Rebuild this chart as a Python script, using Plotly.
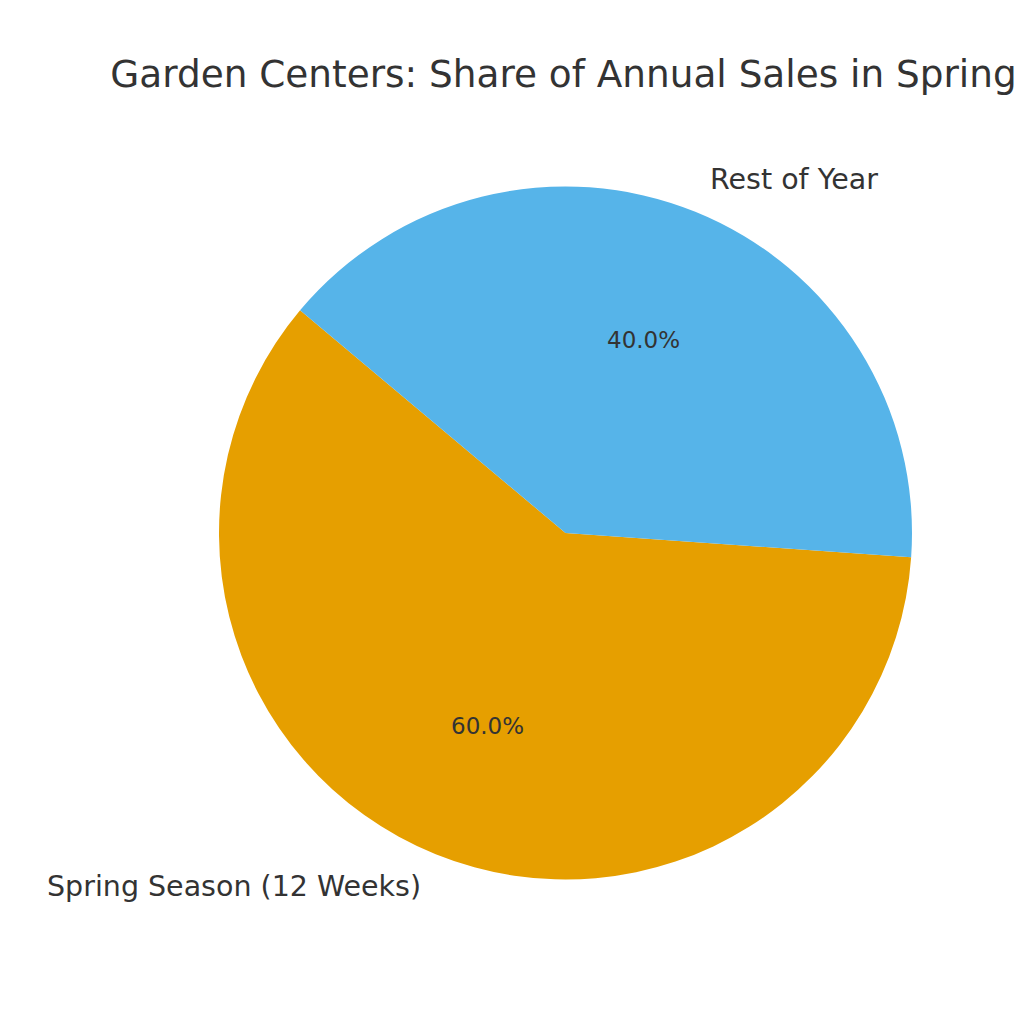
import math
import plotly.graph_objects as go

# ---- data ----
categories = ["Spring Season (12 Weeks)", "Rest of Year"]
shares = [60, 40]
colors = ["#E69F00", "#56B4E9"]
title_text = "Garden Centers: Share of Annual Sales in Spring"

# ---- layout constants (pixels, 1024x1024 canvas) ----
W = H = 1024
CX, CY = 565.5, 533.0      # pie centre (pixels from top-left)
R = 346.5                  # pie radius in pixels
START_ANGLE = 140          # degrees, counter-clockwise from 3 o'clock
TEXT_COLOR = "#333333"
FONT = "DejaVu Sans"

total = sum(shares)
end_first = START_ANGLE + 360.0 * shares[0] / total

fig = go.Figure()
fig.add_trace(go.Pie(
    labels=categories,
    values=shares,
    sort=False,
    direction="counterclockwise",
    rotation=90 - (end_first % 360),
    marker=dict(colors=colors, line=dict(width=0)),
    textinfo="none",
    hoverinfo="label+percent",
    showlegend=False,
    domain=dict(x=[(CX - R) / W, (CX + R) / W],
                y=[(H - CY - R) / H, (H - CY + R) / H]),
))

# label / percentage annotations placed like matplotlib (1.1 r and 0.6 r)
angle = START_ANGLE
annotations = []
for cat, v in zip(categories, shares):
    span = 360.0 * v / total
    mid = math.radians(angle + span / 2)
    angle += span
    cx_p, cy_p = CX / W, (H - CY) / H
    lx = cx_p + 1.1 * R / W * math.cos(mid)
    ly = cy_p + 1.1 * R / H * math.sin(mid)
    annotations.append(dict(
        x=lx, y=ly, xref="paper", yref="paper", text=cat, showarrow=False,
        xanchor="left" if math.cos(mid) > 0 else "right", yanchor="middle",
        font=dict(family=FONT, size=28.5, color=TEXT_COLOR)))
    px = cx_p + 0.6 * R / W * math.cos(mid)
    py = cy_p + 0.6 * R / H * math.sin(mid)
    annotations.append(dict(
        x=px, y=py, xref="paper", yref="paper", text=f"{100 * v / total:.1f}%",
        showarrow=False, xanchor="center", yanchor="middle",
        font=dict(family=FONT, size=23, color=TEXT_COLOR)))

fig.update_layout(
    width=W, height=H,
    margin=dict(l=0, r=0, t=0, b=0),
    paper_bgcolor="white", plot_bgcolor="white",
    title=dict(text=title_text, x=(CX - 2) / W, xanchor="center",
               y=1 - 74 / H, yanchor="middle",
               font=dict(family=FONT, size=37.4, color=TEXT_COLOR)),
    annotations=annotations,
)

fig.write_html("out.html")
